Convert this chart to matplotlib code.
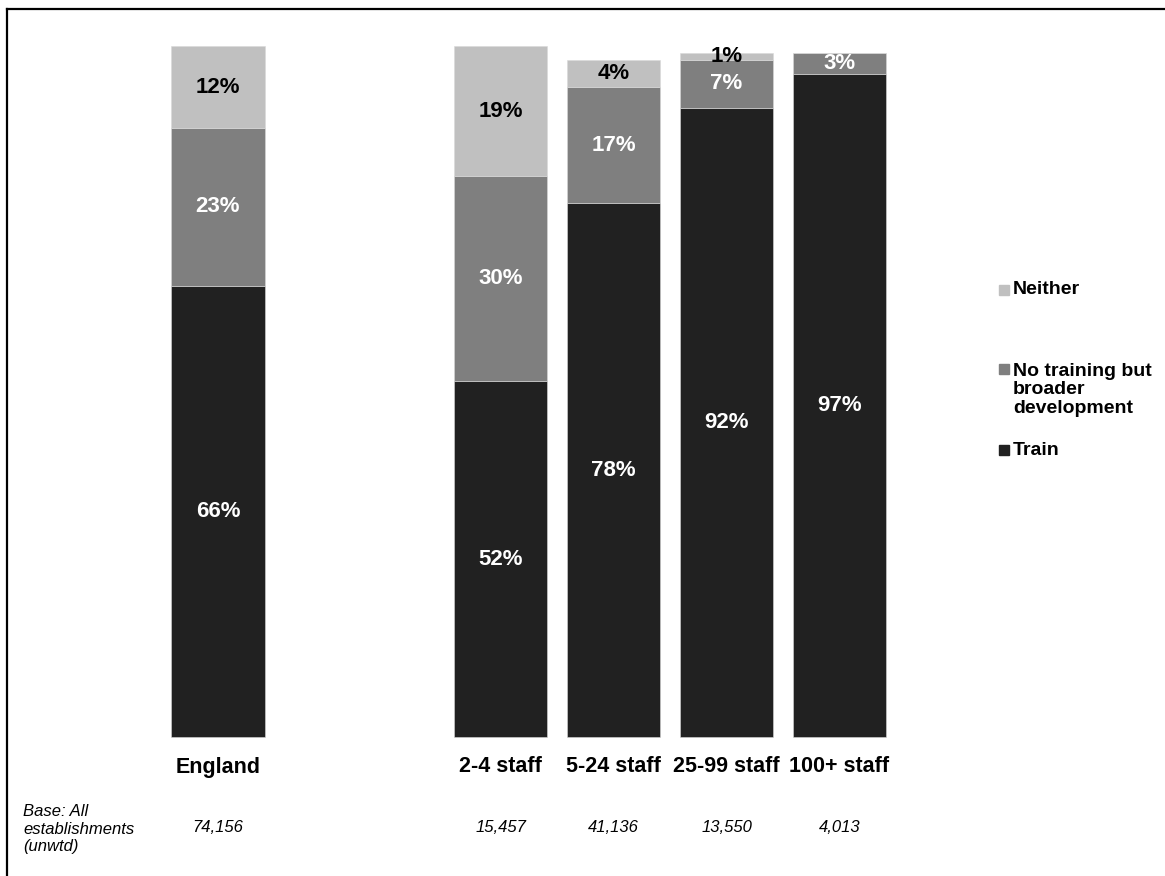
import numpy as np
import matplotlib.pyplot as plt
from matplotlib.lines import Line2D
from matplotlib.patches import Rectangle

plt.rcParams['font.family'] = ['Liberation Sans', 'DejaVu Sans']

# ---------------- data ----------------
categories = ['England', '2-4 staff', '5-24 staff', '25-99 staff', '100+ staff']
positions = [0, 2.5, 3.5, 4.5, 5.5]
base_sizes = ['74,156', '15,457', '41,136', '13,550', '4,013']

train = [66, 52, 78, 92, 97]
broader_dev = [23, 30, 17, 7, 3]
neither = [12, 19, 4, 1, 0]

series_names = ['Train', 'No training but\nbroader\ndevelopment', 'Neither']
series_colors = ['#212121', '#7f7f7f', '#c0c0c0']
label_colors = ['white', 'white', 'black']

W, H = 1165, 876
fig = plt.figure(figsize=(W / 100, H / 100), dpi=100)

# axes placed so that 0..100 % spans the bar area
px_bottom, px_top = 737, 53
unit_px = 113.0
ax = fig.add_axes([0, (H - px_bottom) / H, 1, (px_bottom - px_top) / H])
ax.set_xlim(-218 / unit_px, (W - 218) / unit_px)
ax.set_ylim(0, 100)
ax.axis('off')

bottom = np.zeros(len(categories))
for vals, name, col, tcol in zip([train, broader_dev, neither], series_names,
                                 series_colors, label_colors):
    vals = np.array(vals, dtype=float)
    ax.bar(positions, vals, width=0.83, bottom=bottom, color=col,
           edgecolor='#d8d8d8', linewidth=0.4, clip_on=False)
    for x, b, v in zip(positions, bottom, vals):
        if v > 0:
            ax.text(x, b + v / 2, f'{int(v)}%', ha='center', va='center',
                    color=tcol, fontsize=16, fontweight='bold', clip_on=False)
    bottom += vals

# category names and base sizes under the bars
for x, cat, n in zip(positions, categories, base_sizes):
    ax.text(x, -30 / 6.84, cat, ha='center', va='center', fontsize=15.5,
            fontweight='bold', clip_on=False)
    ax.text(x, -91 / 6.84, n, ha='center', va='center', fontsize=12,
            style='italic', clip_on=False)

fig.text(23 / W, 1 - 829 / H, 'Base: All\nestablishments\n(unwtd)', ha='left',
         va='center', fontsize=12, style='italic', linespacing=1.25)

# legend (top to bottom: Neither, No training..., Train)
legend_y = [290, 369, 450]
for name, col, y in zip(series_names[::-1], series_colors[::-1], legend_y):
    fig.patches.append(Rectangle((999 / W, 1 - (y + 5) / H), 10 / W, 10 / H,
                                 transform=fig.transFigure, color=col))
    n_lines = name.count('\n')
    fig.text(1013 / W, 1 - (y + n_lines * 21 / 2) / H, name, ha='left',
             va='center', fontsize=14, fontweight='bold', linespacing=1.08)

# frame around the chart
fig.add_artist(Line2D([7 / W, 1], [1 - 9 / H, 1 - 9 / H], color='black', lw=1.6))
fig.add_artist(Line2D([7 / W, 7 / W], [0, 1 - 9 / H], color='black', lw=1.6))

fig.savefig('out.png', dpi=100, facecolor='white')
